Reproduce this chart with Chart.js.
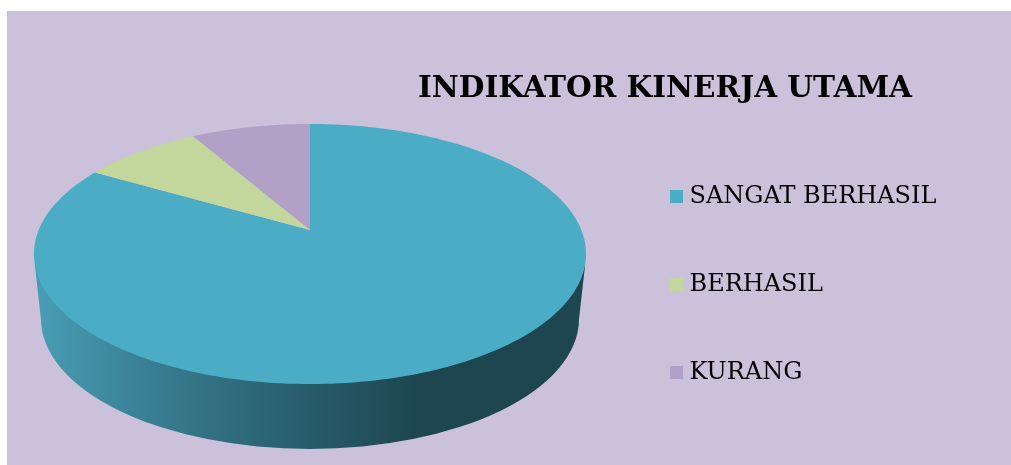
<!DOCTYPE html>
<html>
<head>
<meta charset="utf-8">
<style>html,body{margin:0;padding:0;background:#fff}canvas{display:block}</style>
<script src="https://cdn.jsdelivr.net/npm/chart.js@4"></script>
</head>
<body>
<canvas id="c" width="1011" height="465"></canvas>
<script>
const categories = ["SANGAT BERHASIL", "BERHASIL", "KURANG"];
const seriesValues = [10, 1, 1];
const sliceColors = ["#4bacc6", "#c3d69b", "#b2a1c7"];
const chartTitle = "INDIKATOR KINERJA UTAMA";

const CX = 310, APEX_Y = 230, RX = 271.3, RY = 125.6, K = -0.1846;
const project = a => {
  const u = Math.cos(a), v = Math.sin(a), d = 1 + K * v;
  return [CX + RX * u / d, APEX_Y + RY * v / d];
};

const scene = {
  id: "scene",
  beforeDraw(chart) {
    const c = chart.ctx;
    c.save();
    c.fillStyle = "#ffffff";
    c.fillRect(0, 0, chart.width, chart.height);
    c.fillStyle = "#cbc1da";
    c.fillRect(7, 11, chart.width - 7, chart.height - 11);
    c.restore();
  },
  afterLayout(chart) {
    const t = chart.titleBlock, l = chart.legend;
    t.left = 418; t.right = 912; t.width = 494; t.top = 75; t.bottom = 107;
    const pad = l.options.labels.padding;
    l.left = 675.5 - pad; l.right = l.left + 340;
    l.top = 184.5 - pad; l.bottom = chart.height + 100;
  },
  beforeDatasetDraw(chart, args) {
    const c = chart.ctx, arcs = args.meta.data;
    c.save();
    // side wall
    const g = c.createLinearGradient(41, 0, 420, 0);
    g.addColorStop(0, "#489cb3");
    g.addColorStop(0.33, "#377a8e");
    g.addColorStop(0.68, "#285e6c");
    g.addColorStop(1, "#1e4650");
    c.fillStyle = g;
    c.beginPath();
    c.moveTo(35, 266);
    c.lineTo(41, 320);
    c.ellipse(310, 319, 269, 130, 0, Math.PI, 0, true);
    c.lineTo(585, 266);
    c.closePath();
    c.fill();
    // top face, one wedge per arc element
    arcs.forEach(arc => {
      const p = arc.getProps(["startAngle", "endAngle"], true);
      c.fillStyle = arc.options.backgroundColor;
      c.beginPath();
      c.moveTo(CX, APEX_Y);
      const n = 240;
      for (let i = 0; i <= n; i++) {
        const q = project(p.startAngle + (p.endAngle - p.startAngle) * i / n);
        c.lineTo(q[0], q[1]);
      }
      c.closePath();
      c.fill();
    });
    c.restore();
    return false;
  }
};

new Chart(document.getElementById("c"), {
  type: "pie",
  data: {
    labels: categories,
    datasets: [{ data: seriesValues, backgroundColor: sliceColors, borderWidth: 0 }]
  },
  plugins: [scene],
  options: {
    responsive: false,
    animation: false,
    layout: { padding: 0 },
    plugins: {
      tooltip: { enabled: false },
      title: {
        display: true,
        text: chartTitle,
        align: "center",
        color: "#000000",
        padding: 0,
        font: { family: "'DejaVu Serif'", size: 29.6, weight: "bold", lineHeight: 1 }
      },
      legend: {
        position: "right",
        align: "start",
        labels: {
          color: "#111111",
          boxWidth: 2,
          boxHeight: 2,
          padding: 64,
          font: { family: "'DejaVu Serif'", size: 24 },
          generateLabels: ch => ch.data.labels.map((t, i) => ({
            text: t,
            fillStyle: sliceColors[i],
            strokeStyle: sliceColors[i],
            lineWidth: 11,
            index: i
          }))
        }
      }
    }
  }
});
</script>
</body>
</html>
